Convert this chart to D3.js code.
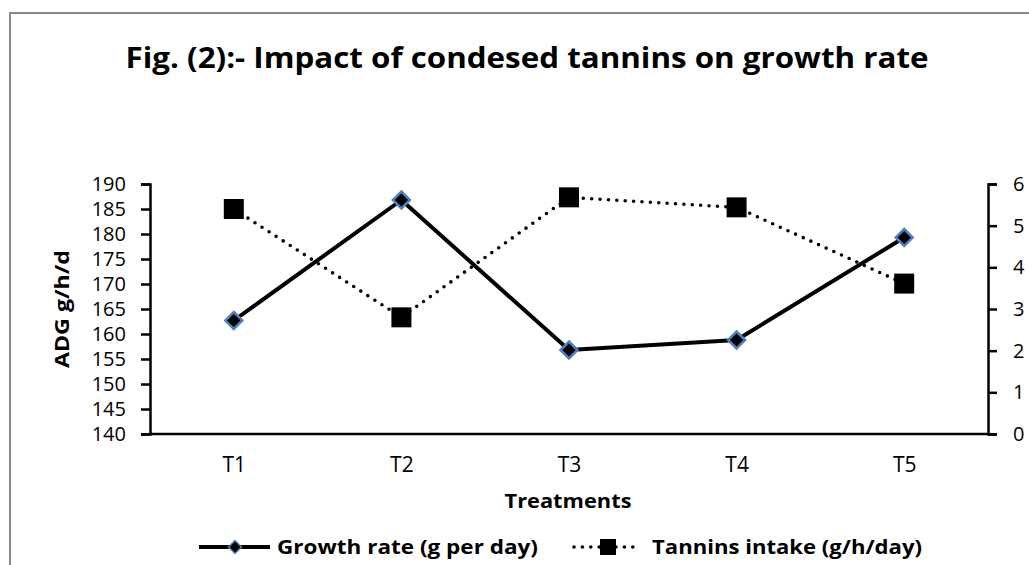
<!DOCTYPE html>
<html>
<head>
<meta charset="utf-8">
<script src="https://cdn.jsdelivr.net/npm/d3@7"></script>
<style>
  html, body { margin: 0; padding: 0; background: #fff; }
  svg { display: block; }
  text { font-family: "Open Sans", "DejaVu Sans", sans-serif; fill: #000; }
</style>
</head>
<body>
<svg id="chart" width="1029" height="565"></svg>
<script>
// ---- data ----
const categories = ["T1", "T2", "T3", "T4", "T5"];
const growthRate = [162.7, 186.8, 156.8, 158.8, 179.3];   // g per day (left axis)
const tanninsIntake = [5.40, 2.80, 5.68, 5.44, 3.61];    // g/h/day (right axis)
const leftTicks = [140, 145, 150, 155, 160, 165, 170, 175, 180, 185, 190];
const rightTicks = [0, 1, 2, 3, 4, 5, 6];
const titleText = "Fig. (2):- Impact of condesed tannins on growth rate";
const xTitle = "Treatments";
const yTitle = "ADG g/h/d";
const legendLabels = ["Growth rate (g per day)", "Tannins intake (g/h/day)"];

// ---- layout ----
const svg = d3.select("#chart");
const plot = { left: 150, right: 988, top: 184, bottom: 434 };

// border frame
svg.append("rect")
  .attr("x", 10).attr("y", 13)
  .attr("width", 1040).attr("height", 600)
  .attr("fill", "none").attr("stroke", "#898989").attr("stroke-width", 2);

// scales
const x = d3.scalePoint().domain(categories).range([plot.left, plot.right]).padding(0.5);
const yL = d3.scaleLinear().domain([140, 190]).range([plot.bottom, plot.top]);
const yR = d3.scaleLinear().domain([0, 6]).range([plot.bottom, plot.top]);

// title
svg.append("text")
  .attr("x", 527).attr("y", 68)
  .attr("text-anchor", "middle")
  .attr("font-size", 29).attr("font-weight", "bold")
  .attr("textLength", 803).attr("lengthAdjust", "spacingAndGlyphs")
  .text(titleText);

// left axis
const gL = svg.append("g")
  .attr("transform", `translate(${plot.left},0)`)
  .call(d3.axisLeft(yL).tickValues(leftTicks).tickSize(9).tickPadding(15).tickFormat(d3.format("d")));
// right axis
const gR = svg.append("g")
  .attr("transform", `translate(${plot.right},0)`)
  .call(d3.axisRight(yR).tickValues(rightTicks).tickSize(9).tickPadding(16).tickFormat(d3.format("d")));
// bottom axis
const gB = svg.append("g")
  .attr("transform", `translate(0,${plot.bottom})`)
  .call(d3.axisBottom(x).tickSize(0).tickSizeOuter(0).tickPadding(36));

[gL, gR, gB].forEach(g => {
  g.selectAll("path.domain").attr("stroke", "#000").attr("stroke-width", 2.5);
  g.selectAll(".tick line").attr("stroke", "#000").attr("stroke-width", 2.5);
  g.selectAll(".tick text")
    .attr("font-family", '"Open Sans", "DejaVu Sans", sans-serif')
    .attr("font-size", 20).attr("fill", "#222");
});
gB.select("path.domain").attr("d", `M${plot.left},0H${plot.right}`);
gB.selectAll(".tick text").attr("dy", "0.1em").attr("font-size", 21);

// axis titles
svg.append("text")
  .attr("x", 568).attr("y", 508)
  .attr("text-anchor", "middle")
  .attr("font-size", 19).attr("font-weight", "bold")
  .attr("textLength", 127).attr("lengthAdjust", "spacingAndGlyphs")
  .text(xTitle);

svg.append("text")
  .attr("transform", "translate(69,309) rotate(-90)")
  .attr("text-anchor", "middle")
  .attr("font-size", 19).attr("font-weight", "bold")
  .attr("textLength", 118).attr("lengthAdjust", "spacingAndGlyphs")
  .text(yTitle);

// lines
const growthLine = d3.line().x((d, i) => x(categories[i])).y(d => yL(d));
const tanninLine = d3.line().x((d, i) => x(categories[i])).y(d => yR(d));

svg.append("path")
  .datum(tanninsIntake)
  .attr("d", tanninLine)
  .attr("fill", "none").attr("stroke", "#000")
  .attr("stroke-width", 3.6).attr("stroke-linecap", "round")
  .attr("stroke-dasharray", "0 8.4");

svg.append("path")
  .datum(growthRate)
  .attr("d", growthLine)
  .attr("fill", "none").attr("stroke", "#000")
  .attr("stroke-width", 4).attr("stroke-linejoin", "round");

// markers
const diamond = r => `M0,${-r}L${r},0L0,${r}L${-r},0Z`;

svg.append("g").selectAll("rect")
  .data(tanninsIntake)
  .join("rect")
  .attr("x", (d, i) => x(categories[i]) - 10)
  .attr("y", d => yR(d) - 10)
  .attr("width", 20).attr("height", 20)
  .attr("fill", "#000");

svg.append("g").selectAll("path")
  .data(growthRate)
  .join("path")
  .attr("transform", (d, i) => `translate(${x(categories[i])},${yL(d)})`)
  .attr("d", diamond(8.5))
  .attr("fill", "#000").attr("stroke", "#4f81bd").attr("stroke-width", 2.5);

// legend
const ly = 547;
const leg = svg.append("g");
leg.append("line")
  .attr("x1", 199).attr("x2", 270).attr("y1", ly).attr("y2", ly)
  .attr("stroke", "#000").attr("stroke-width", 4);
leg.append("path")
  .attr("transform", `translate(235,${ly})`)
  .attr("d", diamond(6.5))
  .attr("fill", "#000").attr("stroke", "#4f81bd").attr("stroke-width", 1.5);
leg.append("text")
  .attr("x", 277).attr("y", 554)
  .attr("font-size", 20).attr("font-weight", "bold")
  .attr("textLength", 261).attr("lengthAdjust", "spacingAndGlyphs")
  .text(legendLabels[0]);

leg.append("line")
  .attr("x1", 574).attr("x2", 641).attr("y1", ly).attr("y2", ly)
  .attr("stroke", "#000").attr("stroke-width", 3.6)
  .attr("stroke-linecap", "round").attr("stroke-dasharray", "0 8.4");
leg.append("rect")
  .attr("x", 600).attr("y", ly - 8)
  .attr("width", 16).attr("height", 16)
  .attr("fill", "#000");
leg.append("text")
  .attr("x", 652).attr("y", 554)
  .attr("font-size", 20).attr("font-weight", "bold")
  .attr("textLength", 270).attr("lengthAdjust", "spacingAndGlyphs")
  .text(legendLabels[1]);
</script>
</body>
</html>
